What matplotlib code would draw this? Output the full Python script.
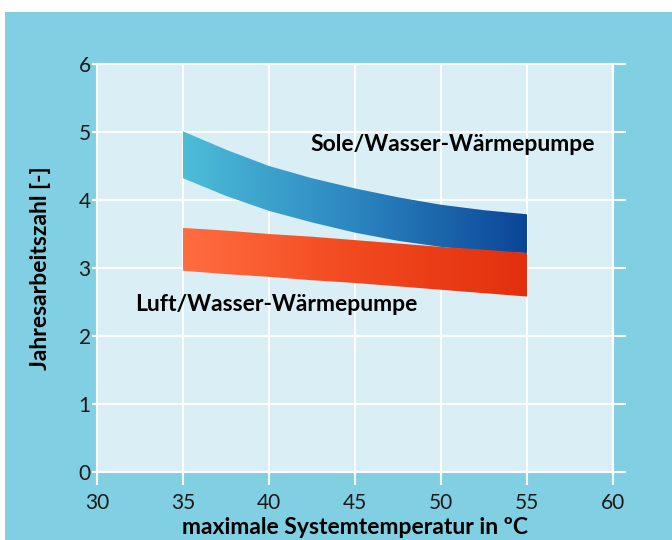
#!/usr/bin/env python3
# -*- coding: utf-8 -*-
"""Jahresarbeitszahl von Wärmepumpen über der maximalen Systemtemperatur"""

import numpy as np
import matplotlib
matplotlib.use("Agg")
import matplotlib.pyplot as plt
from matplotlib.colors import LinearSegmentedColormap
from matplotlib.patches import Rectangle

# Daten
temp = [35, 37.5, 40, 42.5, 45, 47.5, 50, 52.5, 55]
sole_oben = [5.01, 4.74, 4.50, 4.32, 4.17, 4.04, 3.93, 3.85, 3.79]
sole_unten = [4.32, 4.06, 3.84, 3.67, 3.52, 3.40, 3.31, 3.25, 3.22]
luft_oben = [3.59, 3.55, 3.50, 3.46, 3.41, 3.36, 3.31, 3.27, 3.22]
luft_unten = [2.96, 2.91, 2.87, 2.82, 2.78, 2.73, 2.68, 2.63, 2.58]

x_ticks = [30, 35, 40, 45, 50, 55, 60]
y_ticks = [0, 1, 2, 3, 4, 5, 6]

label_sole = "Sole/Wasser-Wärmepumpe"
label_luft = "Luft/Wasser-Wärmepumpe"

aussen = "#81cfe2"
innen = "#d9eff5"
schrift = "#1a1a1a"

plt.rcParams["font.family"] = ["Lato", "DejaVu Sans"]

fig = plt.figure(figsize=(6.72, 5.4), dpi=100)
fig.patch.set_facecolor("white")
fig.patches.append(Rectangle((5 / 672, 0), 1, 528 / 540, transform=fig.transFigure,
                             facecolor=aussen, edgecolor="none", zorder=-10))

ax = fig.add_axes([97 / 672, 68 / 540, 516 / 672, 408 / 540])
ax.set_facecolor(innen)


def band(ax, x, oben, unten, farben):
    poly = ax.fill_between(x, unten, oben, facecolor="none", edgecolor="none")
    cmap = LinearSegmentedColormap.from_list("verlauf", farben)
    grad = np.linspace(0, 1, 256).reshape(1, -1)
    img = ax.imshow(grad, cmap=cmap, aspect="auto", origin="lower",
                    extent=[min(x), max(x), min(unten), max(oben)], zorder=2)
    img.set_clip_path(poly.get_paths()[0], transform=ax.transData)


band(ax, temp, sole_oben, sole_unten, ["#4dbdd8", "#2c86c0", "#0b4597"])
band(ax, temp, luft_oben, luft_unten, ["#ff6d40", "#f2491f", "#e2300e"])

ax.set_xlim(30, 60)
ax.set_ylim(0, 6)
ax.set_xticks(x_ticks)
ax.set_yticks(y_ticks)
ax.grid(True, color="white", linewidth=1.5)
ax.set_axisbelow(True)
for s in ax.spines.values():
    s.set_color("white")
    s.set_linewidth(1.5)

ax.tick_params(axis="x", colors="white", length=9, width=1.5, pad=6,
               labelcolor=schrift, labelsize=15)
ax.tick_params(axis="y", colors="white", length=3.5, width=1.5, pad=1,
               labelcolor=schrift, labelsize=15, right=True)
for t in ax.yaxis.get_major_ticks():
    t.tick2line.set_markersize(9)

ax.text(42.4, 4.81, label_sole, fontsize=16.5, fontweight="bold",
        color="black", va="center", ha="left")
ax.text(32.2, 2.47, label_luft, fontsize=16.5, fontweight="bold",
        color="black", va="center", ha="left")

ax.set_xlabel("maximale Systemtemperatur in ºC", fontsize=16.5,
              fontweight="bold", color="black", labelpad=3)
ax.set_ylabel("Jahresarbeitszahl [-]", fontsize=16.5, fontweight="bold",
              color="black", labelpad=20)

fig.savefig("out.png", dpi=100, facecolor=fig.get_facecolor())
